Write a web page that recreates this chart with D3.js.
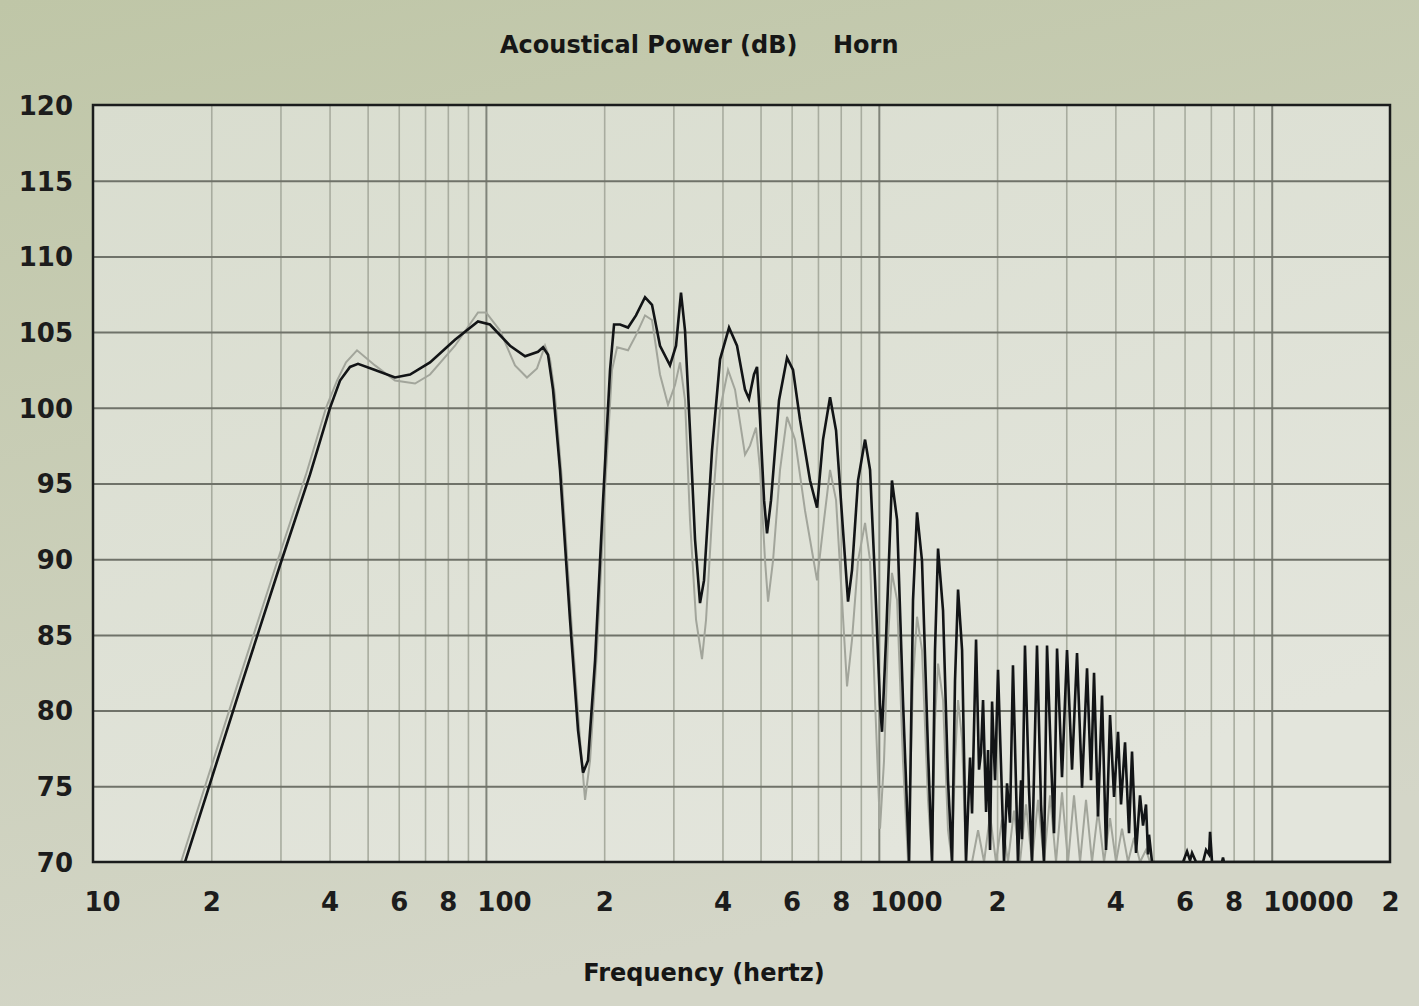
<!DOCTYPE html>
<html><head><meta charset="utf-8">
<script src="https://cdn.jsdelivr.net/npm/d3@7"></script>
<style>body{margin:0;overflow:hidden;background:#c9cdb6}svg{display:block}</style>
</head><body>
<svg id="c" width="1419" height="1006"></svg>
<script>
// ---------- data ----------
const titleMain = "Acoustical Power (dB)";
const titleSuffix = "Horn";
const xAxisTitle = "Frequency (hertz)";

const yTickValues = [70, 75, 80, 85, 90, 95, 100, 105, 110, 115, 120];
const xTickValues = [10, 20, 40, 60, 80, 100, 200, 400, 600, 800, 1000, 2000, 4000, 6000, 8000, 10000, 20000];
const xTickLabels = ["10", "2", "4", "6", "8", "100", "2", "4", "6", "8", "1000", "2", "4", "6", "8", "10000", "2"];
const xGridMinor = [20, 30, 40, 50, 60, 70, 80, 90, 200, 300, 400, 500, 600, 700, 800, 900,
                    2000, 3000, 4000, 5000, 6000, 7000, 8000, 9000];
const xGridMajor = [100, 1000, 10000];

// Black trace (Hz, dB)
const blackFreq = [17.15, 19.86, 23.66, 29.92, 35.68, 40.11, 42.53, 45.09, 47.26, 52.21, 58.70, 64.11, 72.07, 83.43,
  95.46, 102.4, 115.2, 125.8, 135.7, 139.8, 143.9, 148.2, 154.4, 163.7, 171.6, 176.7, 181.9, 189.6, 198.7, 207.0,
  211.9, 219.5, 230.0, 241.0, 254.1, 264.7, 277.4, 294.1, 304.7, 313.7, 321.2, 330.7, 340.6, 350.7, 359.0, 376.3,
  394.4, 415.7, 435.6, 456.5, 467.3, 481.2, 489.8, 498.6, 510.4, 519.4, 531.7, 557.2, 584.0, 604.9, 630.2, 668.3,
  696.3, 721.1, 751.4, 778.3, 810.8, 835.0, 854.8, 885.4, 922.5, 950.0, 978.0, 1007, 1019, 1043, 1080, 1113, 1152,
  1194, 1222, 1251, 1288, 1334, 1366, 1390, 1415, 1457, 1500, 1536, 1563, 1591, 1629, 1667,
  1707, 1727, 1768, 1799, 1820, 1842, 1875, 1897, 1919, 1942, 1976, 2011, 2083, 2120, 2157, 2195, 2260, 2301, 2314,
  2355, 2411, 2454, 2527, 2587, 2633, 2680, 2744, 2792, 2842, 2926, 3013, 3103, 3195, 3290, 3388, 3468, 3530, 3613,
  3699, 3787, 3877, 3969, 4063, 4135, 4233, 4333, 4410, 4515, 4622, 4704, 4787, 4844, 4872, 4958,
  5500, 5947, 6088, 6196, 6269, 6419, 6687, 6806, 6926, 6967, 7049, 7472, 7516, 7560, 8000, 20000];
const blackDb = [70, 75.2, 81.4, 89.6, 95.6, 100.0, 101.8, 102.7, 102.9, 102.5, 102.0, 102.2, 103.0, 104.5,
  105.7, 105.5, 104.1, 103.4, 103.7, 104.0, 103.5, 101.2, 95.9, 86.0, 78.7, 75.9, 76.7, 83.3, 93.9, 102.5,
  105.5, 105.5, 105.3, 106.1, 107.3, 106.8, 104.1, 102.8, 104.1, 107.6, 105.1, 98.5, 91.3, 87.1, 88.6, 97.2,
  103.2, 105.3, 104.1, 101.2, 100.6, 102.2, 102.7, 99.2, 93.9, 91.7, 93.9, 100.5, 103.3, 102.5, 99.2, 95.2,
  93.4, 97.9, 100.7, 98.5, 91.9, 87.2, 89.3, 95.2, 97.9, 95.9, 88.6, 80.4, 78.6, 84.7, 95.2, 92.6, 80.7,
  69, 87.3, 93.1, 89.9, 77.4, 69, 84.0, 90.7, 86.6, 75.4, 69, 82.0, 88.0, 84.0, 69,
  76.9, 73.2, 84.7, 76.1, 77.2, 80.7, 73.3, 77.4, 70.8, 80.6, 75.4, 82.7, 69, 75.2, 72.6, 83.0, 69, 75.4, 71.5,
  84.3, 74.8, 69, 84.3, 73.8, 69, 84.3, 76.7, 71.9, 84.1, 75.6, 84.0, 76.1, 83.8, 74.9, 82.8, 75.4, 82.5, 73.0,
  81.0, 70.8, 79.7, 74.3, 78.6, 73.8, 77.9, 71.9, 77.3, 70.6, 74.4, 72.4, 73.8, 70.5, 71.8, 69,
  66, 69, 70.7, 70.1, 70.6, 69, 69, 70.8, 70.5, 72.0, 69, 69, 70.3, 69, 62, 60];

// Grey trace (Hz, dB)
const greyFreq = [16.75, 19.39, 23.11, 29.23, 34.85, 39.18, 41.79, 44.05, 46.98, 52.21, 58.70, 66.02, 72.07, 83.43,
  95.46, 100.1, 108.6, 118.6, 127.2, 134.9, 141.4, 145.6, 149.9, 156.2, 165.6, 173.6, 178.8, 184.1, 191.8, 201.0,
  209.4, 215.7, 230.0, 241.0, 254.1, 264.7, 277.4, 290.7, 302.9, 311.9, 321.2, 330.7, 342.6, 354.8, 363.3, 378.5,
  394.4, 413.3, 430.6, 456.5, 470.1, 486.9, 498.6, 513.4, 522.5, 538.0, 560.5, 584.0, 612.0, 649.0, 696.3, 725.4,
  751.4, 778.3, 806.1, 830.1, 854.8, 885.4, 922.5, 950.0, 978.0, 1007, 1031, 1055, 1080, 1113, 1152, 1187,
  1222, 1251, 1288, 1334, 1366, 1390, 1415, 1457, 1500, 1536, 1563, 1591, 1629, 1667,
  1727, 1789, 1853, 1919, 1987, 2058, 2132, 2208, 2287, 2369, 2454, 2542, 2633, 2728, 2825, 2926, 3031, 3139,
  3252, 3368, 3488, 3613, 3743, 3877, 4016, 4159, 4308, 4462, 4622, 4787, 4900, 6000, 20000];
const greyDb = [70, 75.2, 81.4, 89.6, 95.6, 100.0, 101.8, 103.0, 103.8, 102.8, 101.8, 101.6, 102.2, 104.1,
  106.3, 106.3, 105.1, 102.8, 102.0, 102.6, 104.1, 103.2, 100.8, 95.2, 85.3, 78.1, 74.1, 76.7, 84.0, 94.6,
  102.5, 104.0, 103.8, 104.8, 106.1, 105.8, 102.2, 100.2, 101.5, 103.0, 100.5, 92.6, 86.0, 83.4, 86.0, 93.9,
  99.9, 102.5, 101.2, 96.9, 97.5, 98.7, 95.9, 89.9, 87.2, 89.9, 95.9, 99.4, 97.9, 93.2, 88.6, 92.6,
  95.9, 93.9, 87.3, 81.6, 84.7, 89.9, 92.4, 89.9, 80.7, 72.2, 76.7, 84.7, 89.1, 87.3, 76.7, 69,
  82.0, 86.2, 84.0, 74.1, 69, 79.4, 83.1, 80.7, 72.1, 69, 76.7, 80.7, 78.1, 69,
  69, 72.1, 69, 73.1, 69, 72.8, 69, 73.4, 69, 73.8, 69, 74.1, 69, 74.4, 69, 74.6, 69, 74.4,
  69, 74.1, 69, 73.4, 69, 72.9, 69, 72.2, 69, 71.6, 69, 70.8, 69, 64, 55];

// ---------- layout ----------
const W = 1419, H = 1006;
const m = {left: 93, right: 1390, top: 105, bottom: 862};
const svg = d3.select("#c");
const FONT = "'DejaVu Sans', Verdana, sans-serif";

const defs = svg.append("defs");
const gOut = defs.append("linearGradient").attr("id", "gOut").attr("x1", 0).attr("y1", 0).attr("x2", 0.3).attr("y2", 1);
gOut.append("stop").attr("offset", "0%").attr("stop-color", "#bfc6a7");
gOut.append("stop").attr("offset", "100%").attr("stop-color", "#d4d6c8");
const gIn = defs.append("linearGradient").attr("id", "gIn").attr("x1", 0).attr("y1", 0).attr("x2", 0.6).attr("y2", 1);
gIn.append("stop").attr("offset", "0%").attr("stop-color", "#d9ddcf");
gIn.append("stop").attr("offset", "100%").attr("stop-color", "#e3e5dc");
defs.append("clipPath").attr("id", "clip").append("rect")
  .attr("x", m.left).attr("y", m.top).attr("width", m.right - m.left).attr("height", m.bottom - m.top);

svg.append("rect").attr("width", W).attr("height", H).attr("fill", "url(#gOut)");
svg.append("rect").attr("x", m.left).attr("y", m.top).attr("width", m.right - m.left)
  .attr("height", m.bottom - m.top).attr("fill", "url(#gIn)");

const x = d3.scaleLog().domain([10, 20000]).range([m.left, m.right]);
const y = d3.scaleLinear().domain([70, 120]).range([m.bottom, m.top]).clamp(true);

// vertical grid
const vMinor = svg.append("g").attr("transform", `translate(0,${m.bottom})`)
  .call(d3.axisBottom(x).tickValues(xGridMinor).tickSize(-(m.bottom - m.top)).tickFormat(""));
vMinor.select(".domain").remove();
vMinor.selectAll("line").attr("stroke", "#a8ac9f").attr("stroke-width", 1.6);
const vMajor = svg.append("g").attr("transform", `translate(0,${m.bottom})`)
  .call(d3.axisBottom(x).tickValues(xGridMajor).tickSize(-(m.bottom - m.top)).tickFormat(""));
vMajor.select(".domain").remove();
vMajor.selectAll("line").attr("stroke", "#80847a").attr("stroke-width", 2);

// horizontal grid
const hGrid = svg.append("g").attr("transform", `translate(${m.left},0)`)
  .call(d3.axisLeft(y).tickValues(yTickValues.slice(1, -1)).tickSize(-(m.right - m.left)).tickFormat(""));
hGrid.select(".domain").remove();
hGrid.selectAll("line").attr("stroke", "#6f7269").attr("stroke-width", 2);

// curves
const line = d3.line().x(d => x(d[0])).y(d => y(d[1]));
const plot = svg.append("g").attr("clip-path", "url(#clip)");
plot.append("path").datum(d3.zip(greyFreq, greyDb)).attr("d", line)
  .attr("fill", "none").attr("stroke", "#a2a59b").attr("stroke-width", 2).attr("stroke-linejoin", "miter");
plot.append("path").datum(d3.zip(blackFreq, blackDb)).attr("d", line)
  .attr("fill", "none").attr("stroke", "#121416").attr("stroke-width", 2.6).attr("stroke-linejoin", "miter");

// frame
svg.append("rect").attr("x", m.left).attr("y", m.top).attr("width", m.right - m.left)
  .attr("height", m.bottom - m.top).attr("fill", "none").attr("stroke", "#1a1c1c").attr("stroke-width", 2.5);

// y axis labels
const yAx = svg.append("g").attr("transform", `translate(${m.left},0)`)
  .call(d3.axisLeft(y).tickValues(yTickValues).tickSize(0).tickPadding(20).tickFormat(d3.format("d")));
yAx.select(".domain").remove();
yAx.selectAll("text").attr("font-family", FONT).attr("font-weight", "bold").attr("font-size", 26)
  .attr("fill", "#1c1c1c").attr("dy", "0.36em");

// x axis labels: first digit centred on its grid line
const xAx = svg.append("g").attr("transform", `translate(0,${m.bottom})`)
  .call(d3.axisBottom(x).tickValues(xTickValues).tickSize(0).tickPadding(0)
    .tickFormat((d, i) => xTickLabels[i]));
xAx.select(".domain").remove();
xAx.selectAll("text").attr("font-family", FONT).attr("font-weight", "bold").attr("font-size", 26)
  .attr("fill", "#1c1c1c").attr("text-anchor", "start").attr("dx", "-0.348em").attr("y", 49).attr("dy", 0);

// titles
svg.append("text").attr("x", 500).attr("y", 53).text(titleMain)
  .attr("font-family", FONT).attr("font-weight", "bold").attr("font-size", 24).attr("fill", "#161616");
svg.append("text").attr("x", 833).attr("y", 53).text(titleSuffix)
  .attr("font-family", FONT).attr("font-weight", "bold").attr("font-size", 24).attr("fill", "#161616");
svg.append("text").attr("x", 704).attr("y", 981).attr("text-anchor", "middle").text(xAxisTitle)
  .attr("font-family", FONT).attr("font-weight", "bold").attr("font-size", 24).attr("fill", "#161616");
</script>
</body></html>
